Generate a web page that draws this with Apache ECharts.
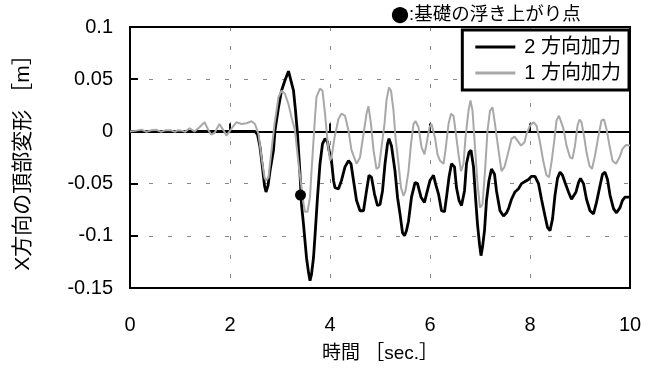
<!DOCTYPE html>
<html>
<head>
<meta charset="utf-8">
<script src="https://cdn.jsdelivr.net/npm/echarts@6/dist/echarts.min.js"></script>
<style>html,body{margin:0;padding:0;background:#fff}#c{width:655px;height:374px}</style>
</head>
<body>
<div id="c"></div>
<script>
const seriesNames = ['2 方向加力', '1 方向加力'];
const xLabelName = '時間 ［sec.］';
const yLabelName = 'X方向の頂部変形 ［m］';
const noteDot = '●';
const noteText = ':基礎の浮き上がり点';
const xTickLabels = ['0', '2', '4', '6', '8', '10'];
const yTickLabels = ['-0.15', '-0.1', '-0.05', '0', '0.05', '0.1'];

// 2方向加力 (black): [time, displacement]
const twoDir = [
[0,0],[2.5,0],[2.55,-0.003],[2.6,-0.015],[2.65,-0.035],[2.69,-0.052],[2.72,-0.058],[2.76,-0.052],[2.8,-0.038],[2.87,-0.018],[2.9,0.001],[2.97,0.023],[3.03,0.039],[3.1,0.049],[3.17,0.0577],[3.21,0.057],[3.27,0.039],[3.31,0.02],[3.35,-0.0024],[3.38,-0.025],[3.4,-0.041],[3.43,-0.07],[3.47,-0.089],[3.5,-0.105],[3.53,-0.121],[3.57,-0.135],[3.6,-0.143],[3.63,-0.137],[3.67,-0.121],[3.7,-0.1],[3.75,-0.063],[3.8,-0.031],[3.85,-0.012],[3.9,-0.007],[3.95,-0.01],[3.98,-0.018],[4.03,-0.028],[4.07,-0.047],[4.1,-0.054],[4.17,-0.055],[4.23,-0.047],[4.3,-0.034],[4.37,-0.028],[4.42,-0.031],[4.47,-0.047],[4.53,-0.066],[4.6,-0.076],[4.67,-0.076],[4.73,-0.057],[4.78,-0.042],[4.83,-0.044],[4.89,-0.06],[4.95,-0.071],[5.0,-0.07],[5.05,-0.057],[5.1,-0.031],[5.15,-0.012],[5.18,-0.007],[5.23,-0.014],[5.3,-0.038],[5.35,-0.063],[5.4,-0.079],[5.45,-0.097],[5.49,-0.1],[5.53,-0.095],[5.57,-0.086],[5.63,-0.063],[5.7,-0.049],[5.75,-0.05],[5.82,-0.063],[5.89,-0.068],[5.93,-0.06],[6.0,-0.047],[6.07,-0.042],[6.11,-0.05],[6.17,-0.06],[6.23,-0.076],[6.29,-0.077],[6.33,-0.063],[6.38,-0.044],[6.43,-0.031],[6.49,-0.034],[6.53,-0.054],[6.58,-0.066],[6.63,-0.071],[6.69,-0.057],[6.73,-0.031],[6.78,-0.02],[6.82,-0.018],[6.87,-0.034],[6.91,-0.063],[6.95,-0.089],[6.99,-0.108],[7.02,-0.119],[7.05,-0.111],[7.09,-0.095],[7.13,-0.066],[7.18,-0.047],[7.23,-0.036],[7.29,-0.041],[7.33,-0.057],[7.4,-0.076],[7.47,-0.081],[7.53,-0.078],[7.57,-0.074],[7.63,-0.065],[7.7,-0.058],[7.77,-0.055],[7.83,-0.05],[7.9,-0.048],[7.97,-0.046],[8.03,-0.043],[8.1,-0.043],[8.17,-0.05],[8.23,-0.065],[8.3,-0.081],[8.35,-0.092],[8.4,-0.095],[8.45,-0.084],[8.5,-0.061],[8.55,-0.045],[8.6,-0.039],[8.65,-0.042],[8.7,-0.049],[8.77,-0.058],[8.83,-0.065],[8.87,-0.065],[8.92,-0.058],[8.97,-0.049],[9.01,-0.045],[9.07,-0.05],[9.13,-0.065],[9.2,-0.076],[9.27,-0.079],[9.33,-0.068],[9.4,-0.052],[9.45,-0.041],[9.5,-0.039],[9.55,-0.046],[9.6,-0.061],[9.67,-0.074],[9.73,-0.078],[9.8,-0.073],[9.85,-0.066],[9.9,-0.063],[10.0,-0.063]
];

// 1方向加力 (gray): [time, displacement]
const oneDir = [
[0,0],[0.1,0.0005],[0.23,0.0017],[0.33,-0.0005],[0.42,0.001],[0.53,0.0015],[0.62,-0.0005],[0.72,0.0012],[0.82,0.001],[0.9,-0.0005],[0.96,0.0012],[1.05,0.0005],[1.1,-0.0005],[1.19,0.003],[1.29,0.0],[1.39,0.004],[1.49,0.0088],[1.56,0.002],[1.62,-0.003],[1.69,-0.0015],[1.79,0.007],[1.87,0.001],[1.93,-0.004],[1.97,-0.0056],[2.05,0.004],[2.13,0.0088],[2.23,0.0071],[2.33,0.0078],[2.43,0.0097],[2.5,0.007],[2.57,-0.0024],[2.63,-0.025],[2.69,-0.044],[2.72,-0.047],[2.77,-0.044],[2.83,-0.018],[2.89,0.007],[2.97,0.033],[3.03,0.039],[3.1,0.036],[3.17,0.026],[3.23,0.0136],[3.3,0.0008],[3.37,-0.031],[3.42,-0.05],[3.47,-0.069],[3.5,-0.077],[3.55,-0.077],[3.6,-0.063],[3.63,-0.038],[3.67,-0.009],[3.7,0.0136],[3.73,0.033],[3.8,0.041],[3.85,0.039],[3.9,0.017],[3.95,-0.009],[4.0,-0.028],[4.03,-0.025],[4.09,-0.006],[4.17,0.0121],[4.23,0.017],[4.3,0.015],[4.37,0.0008],[4.43,-0.018],[4.53,-0.031],[4.6,-0.025],[4.67,-0.0024],[4.73,0.0168],[4.77,0.024],[4.82,0.007],[4.87,-0.018],[4.93,-0.036],[4.98,-0.034],[5.03,-0.015],[5.09,0.0072],[5.13,0.03],[5.18,0.042],[5.22,0.039],[5.27,0.02],[5.31,-0.006],[5.37,-0.031],[5.42,-0.054],[5.47,-0.0617],[5.51,-0.057],[5.57,-0.038],[5.62,-0.012],[5.67,0.007],[5.71,0.01],[5.77,0.004],[5.83,-0.015],[5.89,-0.022],[5.93,-0.012],[5.99,0.004],[6.03,0.007],[6.1,-0.006],[6.15,-0.022],[6.2,-0.028],[6.27,-0.031],[6.31,-0.018],[6.37,0.007],[6.42,0.017],[6.47,0.015],[6.51,0.0008],[6.57,-0.022],[6.62,-0.038],[6.67,-0.031],[6.71,-0.006],[6.77,0.02],[6.81,0.0296],[6.85,0.02],[6.9,-0.015],[6.95,-0.05],[7.0,-0.073],[7.05,-0.07],[7.1,-0.038],[7.15,0.0008],[7.2,0.02],[7.25,0.023],[7.3,0.007],[7.37,-0.018],[7.43,-0.038],[7.49,-0.034],[7.56,-0.021],[7.63,-0.0072],[7.69,-0.005],[7.75,-0.0088],[7.82,-0.0136],[7.89,-0.0104],[7.93,-0.0024],[8.0,0.0056],[8.07,0.0088],[8.13,0.0056],[8.2,-0.0104],[8.27,-0.0296],[8.33,-0.042],[8.38,-0.044],[8.43,-0.0296],[8.49,-0.0072],[8.53,0.0104],[8.58,0.015],[8.62,0.0136],[8.67,0.0024],[8.73,-0.0136],[8.8,-0.0248],[8.85,-0.026],[8.9,-0.0136],[8.95,0.0056],[8.99,0.0114],[9.03,0.0088],[9.08,-0.004],[9.13,-0.02],[9.19,-0.033],[9.24,-0.036],[9.3,-0.0232],[9.37,-0.004],[9.43,0.0104],[9.48,0.0114],[9.53,0.0024],[9.59,-0.0136],[9.65,-0.028],[9.72,-0.031],[9.79,-0.0248],[9.85,-0.0168],[9.92,-0.013],[10.0,-0.0136]
];

// uplift point of foundation
const upliftPoint = [[3.41, -0.061]];

const xMin = 0, xMax = 10, xStep = 2;
const yMin = -0.15, yMax = 0.1, yStep = 0.05;

const FONT = '"Liberation Sans", "Noto Sans CJK JP", sans-serif';
const CJK = '"Noto Sans CJK JP", sans-serif';
const chart = echarts.init(document.getElementById('c'), null, {renderer: 'canvas'});
const yFmt = v => yTickLabels[Math.round((v - yMin) / yStep)] || '';
const xFmt = v => xTickLabels[Math.round((v - xMin) / xStep)] || '';

chart.setOption({
  animation: false,
  backgroundColor: '#fff',
  title: {
    text: '{d|' + noteDot + '}' + noteText, left: 386, top: 1,
    textStyle: {fontFamily: FONT, fontSize: 18.5, fontWeight: 'normal', color: '#000',
      rich: {d: {fontFamily: CJK, fontSize: 18, color: '#000'}}}
  },
  grid: {left: 130, right: 25, top: 27, bottom: 86, show: true, borderColor: '#000', borderWidth: 2, backgroundColor: 'transparent', z: 3},
  legend: {
    data: [{name: seriesNames[0], icon: 'rect'}, {name: seriesNames[1], icon: 'rect'}],
    orient: 'vertical', right: 26, top: 30,
    itemWidth: 40, itemHeight: 3, itemGap: 6,
    padding: [7, 8, 7, 13],
    borderColor: '#000', borderWidth: 3, backgroundColor: '#fff', borderRadius: 0,
    textStyle: {fontFamily: FONT, fontSize: 20, color: '#000', padding: [0, 0, 0, 4]},
    z: 10
  },
  xAxis: [{
    type: 'value', min: xMin, max: xMax, interval: xStep,
    name: xLabelName, nameLocation: 'middle', nameGap: 56,
    nameTextStyle: {fontFamily: FONT, fontSize: 19, color: '#000'},
    axisLine: {show: false, onZero: false},
    axisTick: {show: false},
    axisLabel: {margin: 27, fontFamily: FONT, fontSize: 20, color: '#000', formatter: xFmt},
    splitLine: {show: true, lineStyle: {color: '#888', type: [4, 15], width: 1}}
  }, {
    type: 'value', min: xMin, max: xMax, interval: xStep, position: 'bottom',
    axisLine: {show: true, onZero: true, lineStyle: {color: '#000', width: 2}},
    axisTick: {show: true, inside: true, length: 8, lineStyle: {color: '#000', width: 2}},
    axisLabel: {show: false}, splitLine: {show: false}, z: 1
  }],
  yAxis: {
    type: 'value', min: yMin, max: yMax, interval: yStep,
    name: yLabelName, nameLocation: 'middle', nameGap: 96, nameRotate: 90,
    nameTextStyle: {fontFamily: FONT, fontSize: 21, color: '#000'},
    axisLine: {show: false},
    axisTick: {show: true, inside: true, length: 8, lineStyle: {color: '#000', width: 2}},
    axisLabel: {margin: 17, fontFamily: FONT, fontSize: 20, color: '#000', formatter: yFmt},
    splitLine: {show: true, lineStyle: {color: '#888', type: [4, 15], width: 1}}
  },
  series: [{
    name: seriesNames[0], type: 'line', data: twoDir, symbol: 'none', xAxisIndex: 0,
    lineStyle: {color: '#000', width: 2.8}, itemStyle: {color: '#000'}, z: 2
  }, {
    name: seriesNames[1], type: 'line', data: oneDir, symbol: 'none', xAxisIndex: 0,
    lineStyle: {color: '#a8a8a8', width: 2}, itemStyle: {color: '#a8a8a8'}, z: 3
  }, {
    name: 'uplift', type: 'scatter', data: upliftPoint, symbol: 'circle', symbolSize: 11, xAxisIndex: 0,
    itemStyle: {color: '#000', opacity: 1}, z: 5
  }]
});
</script>
</body>
</html>
